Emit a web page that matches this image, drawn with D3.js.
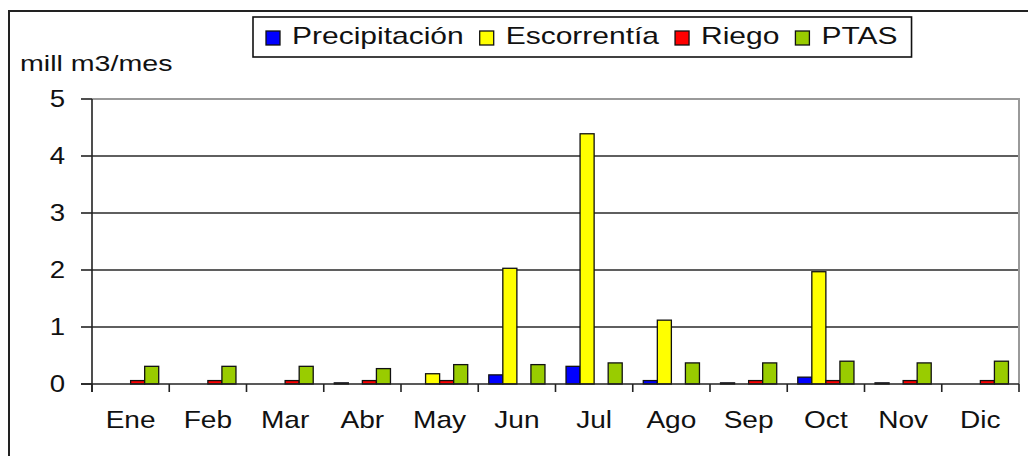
<!DOCTYPE html>
<html>
<head>
<meta charset="utf-8">
<script src="https://cdn.jsdelivr.net/npm/d3@7"></script>
<style>
  body { margin: 0; background: #fff; }
  svg { display: block; }
  text { font-family: "Liberation Sans", Arial, sans-serif; fill: #111; }
</style>
</head>
<body>
<div id="chart"></div>
<script>
// datos (mill m3/mes)
const months = ['Ene', 'Feb', 'Mar', 'Abr', 'May', 'Jun', 'Jul', 'Ago', 'Sep', 'Oct', 'Nov', 'Dic'];
const seriesNames = ['Precipitación', 'Escorrentía', 'Riego', 'PTAS'];
const seriesColors = ['#0000ff', '#ffff00', '#ff0000', '#99cc00'];
const precipitacion = [0, 0, 0, 0.02, 0, 0.16, 0.31, 0.06, 0.02, 0.12, 0.02, 0];
const escorrentia = [0, 0, 0, 0, 0.18, 2.03, 4.39, 1.12, 0, 1.97, 0, 0];
const riego = [0.06, 0.06, 0.06, 0.06, 0.06, 0, 0, 0, 0.06, 0.06, 0.06, 0.06];
const ptas = [0.31, 0.31, 0.31, 0.27, 0.34, 0.34, 0.37, 0.37, 0.37, 0.40, 0.37, 0.40];
const yTicks = [0, 1, 2, 3, 4, 5];
const yLabel = 'mill m3/mes';

const seriesValues = [precipitacion, escorrentia, riego, ptas];

const width = 1028;
const height = 456;

const svg = d3.select('#chart')
    .append('svg')
    .attr('width', width)
    .attr('height', height);

// marco exterior
svg.append('path')
    .attr('d', `M9,${height} V11 H${width}`)
    .attr('fill', 'none')
    .attr('stroke', '#222')
    .attr('stroke-width', 2);

const x = d3.scaleBand().domain(months).range([92, 1019]);
const x1 = d3.scaleBand().domain(seriesNames).range([0, x.bandwidth()]).paddingOuter(0.75);
const y = d3.scaleLinear().domain([0, 5]).range([384, 99]);

// texto estirado en horizontal, como en el original
function sText(parent, tx, ty, str, size, sx, anchor) {
    return parent.append('g')
        .attr('transform', `translate(${tx},${ty}) scale(${sx},1)`)
        .append('text')
        .attr('font-size', size)
        .attr('text-anchor', anchor || 'start')
        .text(str);
}

// lineas de division
svg.append('g')
    .selectAll('line')
    .data(yTicks.filter(t => t > 0 && t < 5))
    .enter()
    .append('line')
    .attr('x1', x.range()[0])
    .attr('x2', x.range()[1])
    .attr('y1', d => y(d))
    .attr('y2', d => y(d))
    .attr('stroke', '#2a2a2a')
    .attr('stroke-width', 1.6);

// borde del area de trazado (arriba y derecha)
svg.append('path')
    .attr('d', `M${x.range()[0]},${y(5)} H${x.range()[1]} V${y(0)}`)
    .attr('fill', 'none')
    .attr('stroke', '#9a9a9a')
    .attr('stroke-width', 2);

// barras
const groups = svg.append('g')
    .selectAll('g')
    .data(months)
    .enter()
    .append('g')
    .attr('transform', d => `translate(${x(d)},0)`);

groups.selectAll('rect')
    .data((m, i) => seriesNames.map((s, k) => ({ s, k, v: seriesValues[k][i] })).filter(d => d.v > 0))
    .enter()
    .append('rect')
    .attr('x', d => x1(d.s))
    .attr('width', x1.bandwidth())
    .attr('y', d => y(d.v))
    .attr('height', d => y(0) - y(d.v))
    .attr('fill', d => seriesColors[d.k])
    .attr('stroke', '#111')
    .attr('stroke-width', 1.3);

// eje y
const yAxis = svg.append('g');
yAxis.append('line')
    .attr('x1', x.range()[0]).attr('x2', x.range()[0])
    .attr('y1', y(5)).attr('y2', y(0) + 8)
    .attr('stroke', '#222').attr('stroke-width', 1.6);
yAxis.selectAll('line.tick')
    .data(yTicks)
    .enter()
    .append('line')
    .attr('class', 'tick')
    .attr('x1', x.range()[0] - 11).attr('x2', x.range()[0])
    .attr('y1', d => y(d)).attr('y2', d => y(d))
    .attr('stroke', '#222').attr('stroke-width', 1.6);
yTicks.forEach(t => sText(yAxis, 65, y(t) + 8, d3.format('d')(t), 23, 1.2, 'end'));

// eje x
const xAxis = svg.append('g');
xAxis.append('line')
    .attr('x1', x.range()[0] - 11).attr('x2', x.range()[1])
    .attr('y1', y(0)).attr('y2', y(0))
    .attr('stroke', '#222').attr('stroke-width', 1.6);
xAxis.selectAll('line.tick')
    .data(months.map(m => x(m)).concat([x.range()[1]]))
    .enter()
    .append('line')
    .attr('class', 'tick')
    .attr('x1', d => d).attr('x2', d => d)
    .attr('y1', y(0)).attr('y2', y(0) + 8)
    .attr('stroke', '#222').attr('stroke-width', 1.6);
months.forEach(m => sText(xAxis, x(m) + x.bandwidth() / 2, 428, m, 24, 1.17, 'middle'));

// titulo del eje y
sText(svg, 20, 71, yLabel, 22, 1.3, 'start');

// leyenda
const LSX = 1.25;
const legend = svg.append('g');
const legendBox = legend.append('rect')
    .attr('fill', '#fff')
    .attr('stroke', '#111')
    .attr('stroke-width', 1.6);
let lx = 266;
seriesNames.forEach((s, k) => {
    legend.append('rect')
        .attr('x', lx).attr('y', 31)
        .attr('width', 14).attr('height', 14)
        .attr('fill', seriesColors[k])
        .attr('stroke', '#111')
        .attr('stroke-width', 1.3);
    const t = sText(legend, lx + 26, 44, s, 24, LSX, 'start');
    lx += 26 + t.node().getComputedTextLength() * LSX + 16;
});
legendBox
    .attr('x', 253).attr('y', 17)
    .attr('width', lx - 16 + 14 - 253).attr('height', 40);
</script>
</body>
</html>
